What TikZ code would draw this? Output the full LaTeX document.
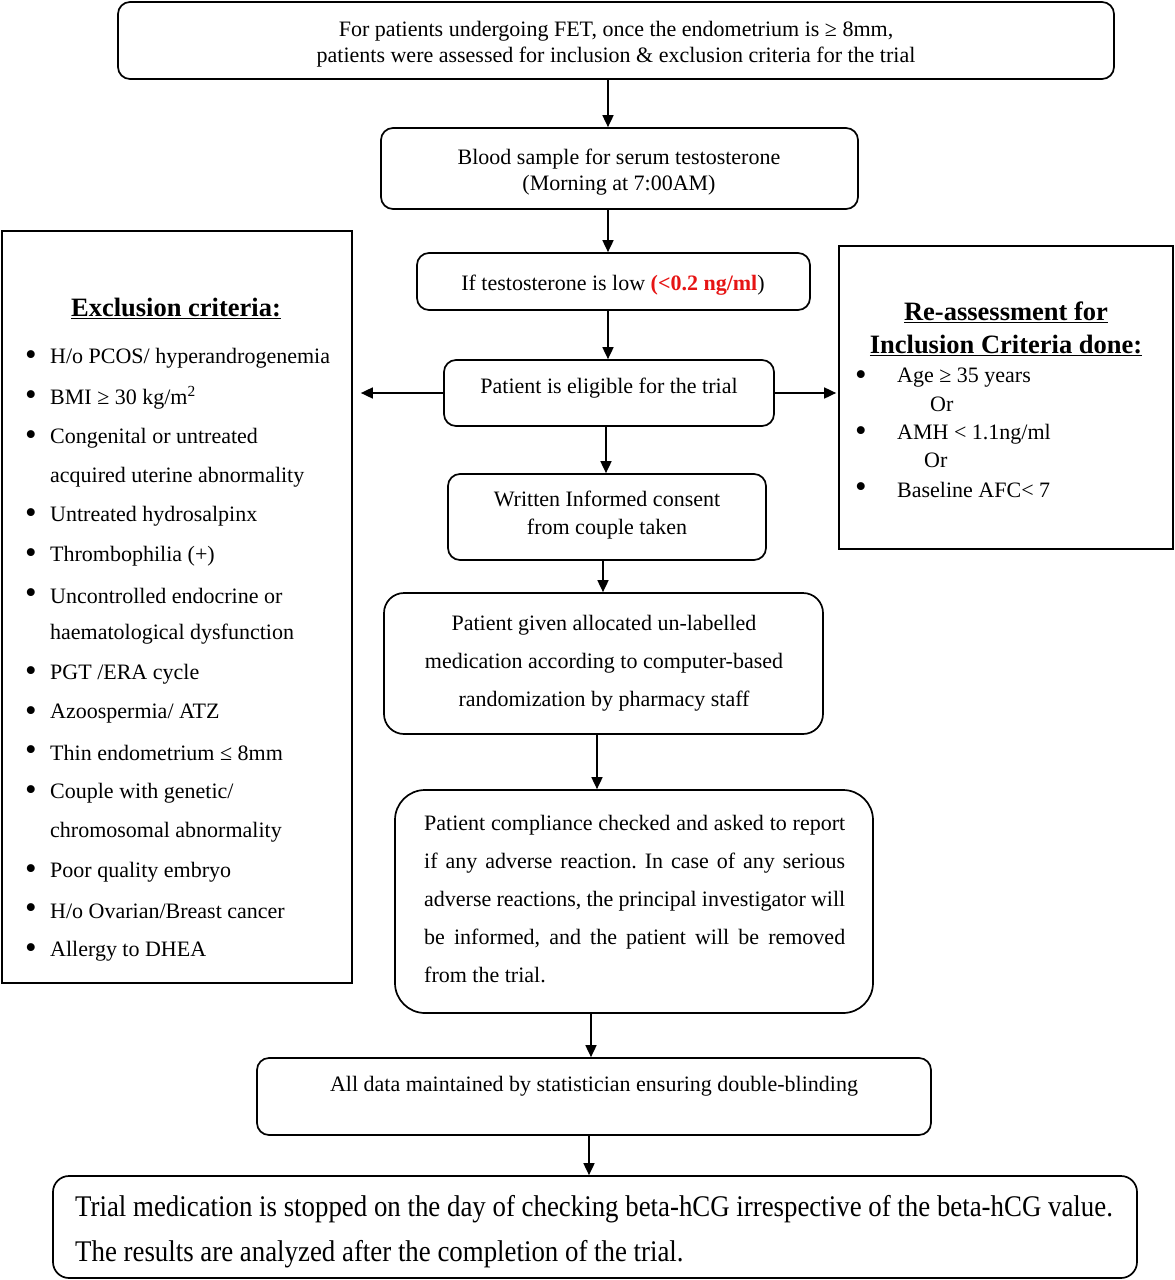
\documentclass[tikz,border=0pt]{standalone}
\usepackage{fontspec}
\setmainfont{Liberation Serif}
\usetikzlibrary{arrows.meta}
\definecolor{redtxt}{RGB}{230,20,20}
\frenchspacing
\begin{document}
\begin{tikzpicture}[x=1pt,y=-1pt,
  rbox/.style={draw,line width=1.7pt,rounded corners=12pt,inner sep=0pt},
  sbox/.style={draw,line width=1.7pt,inner sep=0pt},
  arr/.style={line width=1.7pt,-{Triangle[length=12pt,width=11pt]}},
  txt/.style={inner sep=0pt,align=center,font=\fontsize{22}{26}\selectfont},
  ltxt/.style={inner sep=0pt,anchor=west,font=\fontsize{22}{26}\selectfont},
  bul/.style={inner sep=0pt,anchor=center,font=\fontsize{33}{33}\selectfont}
]
\useasboundingbox (0,0) rectangle (1175,1280);
% boxes
\node[rbox,minimum width=996pt,minimum height=77pt] (b1) at (616,40.5) {};
\node[rbox,minimum width=477pt,minimum height=81pt] (b2) at (619.5,168.5) {};
\node[rbox,minimum width=393pt,minimum height=57pt] (b3) at (613.5,281.5) {};
\node[rbox,minimum width=330pt,minimum height=66pt] (b4) at (609,393) {};
\node[rbox,minimum width=318pt,minimum height=86pt] (b5) at (607,517) {};
\node[rbox,rounded corners=20pt,minimum width=439pt,minimum height=141pt] (b6) at (603.5,663.5) {};
\node[rbox,rounded corners=30pt,minimum width=478pt,minimum height=223pt] (b7) at (634,901.5) {};
\node[rbox,minimum width=674pt,minimum height=77pt] (b8) at (594,1096.5) {};
\node[rbox,rounded corners=16pt,minimum width=1084pt,minimum height=102pt] (b9) at (595,1227) {};
\node[sbox,minimum width=350pt,minimum height=752pt] (ex) at (177,607) {};
\node[sbox,minimum width=334pt,minimum height=303pt] (inc) at (1006,397.5) {};
% arrows
\coordinate (x608) at (608,0);
\coordinate (x606) at (606,0);
\coordinate (x603) at (603,0);
\coordinate (x597) at (597,0);
\coordinate (x591) at (591,0);
\coordinate (x589) at (589,0);
\draw[arr] (b1.south -| x608) -- (b2.north -| x608);
\draw[arr] (b2.south -| x608) -- (b3.north -| x608);
\draw[arr] (b3.south -| x608) -- (b4.north -| x608);
\draw[arr] (b4.west) -- ([xshift=8pt]ex.east |- b4.west);
\draw[arr] (b4.east) -- ([xshift=-2pt]inc.west |- b4.east);
\draw[arr] (b4.south -| x606) -- (b5.north -| x606);
\draw[arr] (b5.south -| x603) -- (b6.north -| x603);
\draw[arr] (b6.south -| x597) -- (b7.north -| x597);
\draw[arr] (b7.south -| x591) -- (b8.north -| x591);
\draw[arr] (b8.south -| x589) -- (b9.north -| x589);
% texts
\node[txt] (t1) at (616,44) {For patients undergoing FET, once the endometrium is ≥ 8mm,\\patients were assessed for inclusion \& exclusion criteria for the trial};
\node[txt] (t2) at (619,172) {Blood sample for serum testosterone\\(Morning at 7:00AM)};
\node[txt] (t3) at (613,285) {If testosterone is low \textcolor{redtxt}{\textbf{(<0.2 ng/ml}})};
\node[txt] (t4) at (609,388) {Patient is eligible for the trial};
\node[txt,font=\fontsize{22}{28}\selectfont] (t5) at (607,515) {Written Informed consent\\from couple taken};
\node[txt,font=\fontsize{22}{38}\selectfont] (t6) at (604,663) {Patient given allocated un-labelled\\medication according to computer-based\\randomization by pharmacy staff};
\node[inner sep=0pt,anchor=north west,align=left,font=\fontsize{22}{38}\selectfont] (t7) at (424,815) {%
\makebox[421pt][s]{Patient compliance checked and asked to report}\\
\makebox[421pt][s]{if any adverse reaction. In case of any serious}\\
\makebox[421pt][s]{adverse reactions, the principal investigator will}\\
\makebox[421pt][s]{be informed, and the patient will be removed}\\
from the trial.};
\node[txt] (t8) at (594,1086) {All data maintained by statistician ensuring double-blinding};
\node[inner sep=0pt,anchor=west,align=left,font=\fontsize{30}{45}\selectfont] (t9) at (75,1232) {%
\scalebox{0.895}[1]{Trial medication is stopped on the day of checking beta-hCG irrespective of the beta-hCG value.}\\
\scalebox{0.895}[1]{The results are analyzed after the completion of the trial.}};
% exclusion criteria
\node[inner sep=0pt,font=\fontsize{26.5}{30}\selectfont\bfseries] (ext) at (176,308) {\underline{Exclusion criteria:}};
\foreach \yy/\tx in {358/H\slash o PCOS\slash{} hyperandrogenemia,398/BMI ≥ 30 kg\slash m\textsuperscript{2},438/Congenital or untreated,516/Untreated hydrosalpinx,556/Thrombophilia (+),596/Uncontrolled endocrine or,674/PGT \slash ERA cycle,714/Azoospermia\slash{} ATZ,753/Thin endometrium ≤ 8mm,793/Couple with genetic\slash,872/Poor quality embryo,911/H\slash o Ovarian\slash Breast cancer,951/Allergy to DHEA}{
  \node[bul] at (31,\yy) {•};
  \node[ltxt] at (50,\yy) {\tx};
}
\foreach \yy/\tx in {477/acquired uterine abnormality,634/haematological dysfunction,832/chromosomal abnormality}{
  \node[ltxt] at (50,\yy) {\tx};
}
% inclusion criteria
\node[inner sep=0pt,align=center,font=\fontsize{26.5}{33}\selectfont\bfseries] (inct) at (1006,329) {\underline{Re-assessment for}\\\underline{Inclusion Criteria done:}};
\foreach \yy/\tx in {378/Age ≥ 35 years,434/AMH < 1.1ng\slash ml,490/Baseline AFC< 7}{
  \node[bul] at (861,\yy) {•};
  \node[ltxt] at (897,\yy) {\tx};
}
\node[ltxt] at (930,404) {Or};
\node[ltxt] at (924,460) {Or};
\end{tikzpicture}
\end{document}
